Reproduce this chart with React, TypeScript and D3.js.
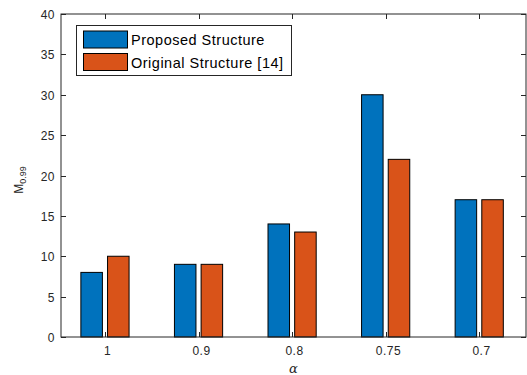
import React, { useEffect, useRef } from "react";
import * as d3 from "d3";

const categories = ["1", "0.9", "0.8", "0.75", "0.7"];
const proposed = [8, 9, 14, 30, 17];
const original = [10, 9, 13, 22, 17];
const seriesNames = ["Proposed Structure", "Original Structure [14]"];
const seriesColors = ["#0072BD", "#D95319"];
const yTicks = [0, 5, 10, 15, 20, 25, 30, 35, 40];

const W = 527, H = 375;
const left = 61, right = 526, top = 14, bottom = 337;
const axisColor = "#262626";
const font = "'Liberation Sans', Arial, sans-serif";

export default function App() {
  const ref = useRef<SVGSVGElement>(null);

  useEffect(() => {
    const svg = d3.select(ref.current);
    svg.selectAll("*").remove();

    const x = d3.scaleLinear().domain([0.53, 5.5]).range([left, right]);
    const y = d3.scaleLinear().domain([0, 40]).range([bottom, top]);
    const barW = 0.23;
    const offs = [-0.1425, 0.1425];
    const series = [proposed, original];

    const g = svg.append("g");
    g.append("rect")
      .attr("x", left).attr("y", top)
      .attr("width", right - left).attr("height", bottom - top)
      .attr("fill", "white");

    series.forEach((vals, s) => {
      g.selectAll(".bar" + s)
        .data(vals)
        .enter()
        .append("rect")
        .attr("x", (d, i) => x(i + 1 + offs[s] - barW / 2))
        .attr("width", x(barW) - x(0))
        .attr("y", d => y(d))
        .attr("height", d => y(0) - y(d))
        .attr("fill", seriesColors[s])
        .attr("stroke", "#000")
        .attr("stroke-width", 1);
    });

    // box
    g.append("rect")
      .attr("x", left).attr("y", top)
      .attr("width", right - left).attr("height", bottom - top)
      .attr("fill", "none").attr("stroke", axisColor).attr("stroke-width", 1);

    // y ticks
    yTicks.forEach(t => {
      const yy = Math.round(y(t)) + 0.5;
      g.append("line").attr("x1", left).attr("x2", left + 5).attr("y1", yy).attr("y2", yy).attr("stroke", axisColor);
      g.append("line").attr("x1", right - 5).attr("x2", right).attr("y1", yy).attr("y2", yy).attr("stroke", axisColor);
      g.append("text")
        .attr("x", left - 6).attr("y", yy + 4.5)
        .attr("text-anchor", "end")
        .attr("font-family", font).attr("font-size", 12).attr("letter-spacing", 0.5)
        .attr("fill", axisColor)
        .text(t);
    });

    // x ticks
    categories.forEach((c, i) => {
      const xx = Math.round(x(i + 1)) + 0.5;
      g.append("line").attr("x1", xx).attr("x2", xx).attr("y1", bottom).attr("y2", bottom - 5).attr("stroke", axisColor);
      g.append("line").attr("x1", xx).attr("x2", xx).attr("y1", top).attr("y2", top + 5).attr("stroke", axisColor);
      g.append("text")
        .attr("x", xx + 2).attr("y", bottom + 18)
        .attr("text-anchor", "middle")
        .attr("font-family", font).attr("font-size", 12).attr("letter-spacing", 0.5)
        .attr("fill", axisColor)
        .text(c);
    });

    // axis labels
    g.append("text")
      .attr("x", (left + right) / 2).attr("y", 373)
      .attr("text-anchor", "middle")
      .attr("font-family", "'DejaVu Serif', serif").attr("font-style", "italic")
      .attr("font-size", 13).attr("fill", axisColor)
      .text("α");

    const yl = g.append("text")
      .attr("transform", `translate(23,180) rotate(-90)`)
      .attr("text-anchor", "middle")
      .attr("font-family", font).attr("font-size", 12).attr("fill", axisColor);
    yl.append("tspan").text("M");
    yl.append("tspan").attr("font-size", 9).attr("dy", 3).text("0.99");

    // legend
    const lg = g.append("g");
    lg.append("rect")
      .attr("x", 76.5).attr("y", 25.5).attr("width", 215).attr("height", 50)
      .attr("fill", "white").attr("stroke", axisColor).attr("stroke-width", 1);
    seriesNames.forEach((n, s) => {
      const yy = 31 + s * 22.5;
      lg.append("rect")
        .attr("x", 83.5).attr("y", yy).attr("width", 44).attr("height", 17)
        .attr("fill", seriesColors[s]).attr("stroke", "#000");
      lg.append("text")
        .attr("x", 131).attr("y", yy + 14)
        .attr("font-family", font).attr("font-size", 14.5).attr("letter-spacing", 0.5)
        .attr("fill", "#000")
        .text(n);
    });
  }, []);

  return (
    <svg ref={ref} width={W} height={H} style={{ position: "absolute", left: 0, top: 0 }} />
  );
}
